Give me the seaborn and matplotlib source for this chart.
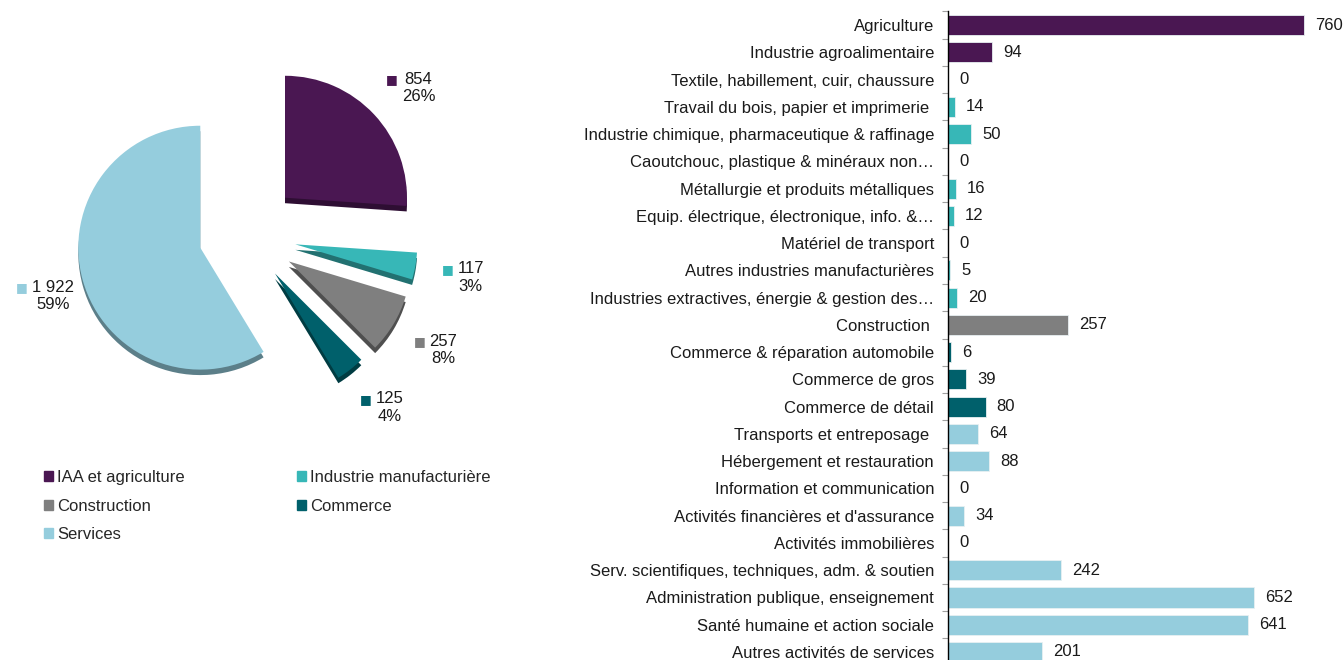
import numpy as np
import pandas as pd
import matplotlib.pyplot as plt
import matplotlib.patches as mpatches
import matplotlib.colors as mcolors
import seaborn as sns

# Sector detail (bar chart, top to bottom)
sectors = ["Agriculture", "Industrie agroalimentaire", "Textile, habillement, cuir, chaussure",
           "Travail du bois, papier et imprimerie ", "Industrie chimique, pharmaceutique & raffinage",
           "Caoutchouc, plastique & minéraux non…", "Métallurgie et produits métalliques",
           "Equip. électrique, électronique, info. &…", "Matériel de transport",
           "Autres industries manufacturières", "Industries extractives, énergie & gestion des…",
           "Construction ", "Commerce & réparation automobile", "Commerce de gros",
           "Commerce de détail", "Transports et entreposage ", "Hébergement et restauration",
           "Information et communication", "Activités financières et d'assurance",
           "Activités immobilières", "Serv. scientifiques, techniques, adm. & soutien",
           "Administration publique, enseignement", "Santé humaine et action sociale",
           "Autres activités de services"]
sector_values = [760, 94, 0, 14, 50, 0, 16, 12, 0, 5, 20, 257, 6, 39, 80, 64, 88, 0, 34, 0, 242, 652, 641, 201]
sector_groups = ["IAA et agriculture"] * 2 + ["Industrie manufacturière"] * 9 + ["Construction"] \
    + ["Commerce"] * 3 + ["Services"] * 9

# Groups (pie chart)
groups = ["IAA et agriculture", "Industrie manufacturière", "Construction", "Commerce", "Services"]
group_pct = ["26%", "3%", "8%", "4%", "59%"]
group_colors = ["#4a1752", "#37b7b7", "#7f7f7f", "#00606b", "#95cddd"]
palette = dict(zip(groups, group_colors))

df = pd.DataFrame({"sector": sectors, "value": sector_values, "group": sector_groups})
totals = df.groupby("group", sort=False)["value"].sum().reindex(groups)

sns.set_theme(style="white")
plt.rcParams["font.family"] = ["Liberation Sans", "DejaVu Sans"]
plt.rcParams["font.size"] = 12

fig = plt.figure(figsize=(13.44, 6.6), dpi=100)

# ---- Pie (exploded, with a darker "3D" rim drawn underneath)
ax_pie = fig.add_axes([0, 0.3636, 0.357, 0.545])
explode = [0.45, 0.42, 0.42, 0.4, 0.38]
dark = [tuple(c * 0.62 for c in mcolors.to_rgb(col)) for col in group_colors]
ax_pie.pie(totals.values, colors=dark, startangle=90, counterclock=False, explode=explode,
           center=(0, -0.045), wedgeprops=dict(linewidth=0))

def fmt(v):
    return f"{v:,}".replace(",", " ")

labels = [f"{fmt(v)}\n{p}" for v, p in zip(totals.values, group_pct)]
wedges, texts = ax_pie.pie(totals.values, colors=group_colors, startangle=90, counterclock=False,
                           explode=explode, labels=labels, labeldistance=1.36,
                           wedgeprops=dict(linewidth=0), textprops=dict(fontsize=12, color="#1a1a1a"))
for t, col in zip(texts, group_colors):
    x, y = t.get_position()
    t.set_position((x + 0.1, y - 0.03))
    t.set_ha("center")
    t.set_multialignment("center")
    ax_pie.annotate("■", xy=(0, 0.76), xycoords=t, xytext=(-3, 0), textcoords="offset points",
                    ha="right", va="center", color=col, fontsize=9, family="DejaVu Sans")
ax_pie.set_xlim(-2.008, 1.926)
ax_pie.set_ylim(-1.516, 1.434)
ax_pie.set_aspect("equal", adjustable="datalim")

# legend, filled row by row
order = [0, 2, 4, 1, 3]
handles = [mpatches.Patch(color=group_colors[i], label=groups[i]) for i in order]
fig.legend(handles=handles, loc="upper left", bbox_to_anchor=(44 / 1344, 1 - 470 / 660), ncol=2,
           frameon=False, fontsize=12, handlelength=0.55, handleheight=0.55, handletextpad=0.25,
           columnspacing=6.7, labelspacing=0.82, borderaxespad=0, borderpad=0)

# ---- Bars
ax_bar = fig.add_axes([948 / 1344, -0.0085, (1323 - 948) / 1344, 0.9912])
sns.barplot(data=df, y="sector", x="value", hue="group", palette=palette, dodge=False,
            legend=False, ax=ax_bar, width=0.74, edgecolor="#e8f0f2", linewidth=0.6, saturation=1)
for cont in ax_bar.containers:
    ax_bar.bar_label(cont, padding=8, fontsize=12, color="#1a1a1a")
ax_bar.set_xlim(0, 800)
ax_bar.set_ylim(len(sectors) - 0.5, -0.5)
ax_bar.set(xlabel="", ylabel="")
ax_bar.set_xticks([])
for s in ["top", "right", "bottom"]:
    ax_bar.spines[s].set_visible(False)
ax_bar.spines["left"].set_color("black")
ax_bar.spines["left"].set_linewidth(1)
ax_bar.tick_params(axis="y", which="major", length=0, pad=10, labelsize=12, labelcolor="#1a1a1a")
ax_bar.set_yticks(np.arange(len(sectors) + 1) - 0.5, minor=True)
ax_bar.tick_params(axis="y", which="minor", length=4, width=0.8, color="#a0a0a0", left=True)

fig.savefig("out.png", dpi=100)
